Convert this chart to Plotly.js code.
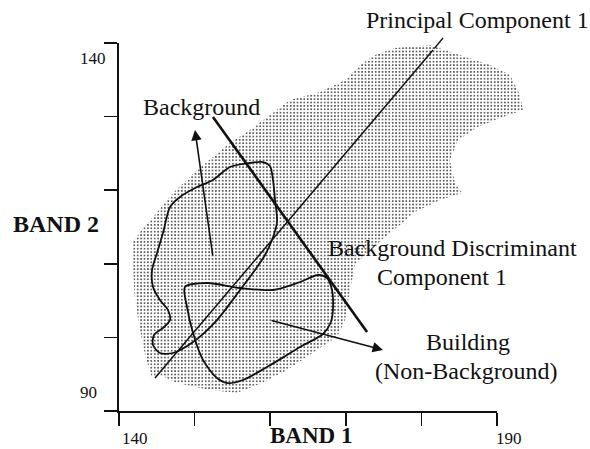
<!DOCTYPE html>
<html>
<head>
<meta charset="utf-8">
<script src="https://cdn.plot.ly/plotly-3.0.1.min.js"></script>
<style>html,body{margin:0;padding:0;background:#fff;}#chart{width:590px;height:449px;}</style>
</head>
<body>
<div id="chart"></div>
<script>
// Stippled scatter cloud (BAND 1, BAND 2)
const cloudX = [144.37,143.44,142.78,142.12,141.85,141.85,143.17,144.50,147.14,150.32,152.43,154.68,157.33,159.97,162.62,166.59,169.90,171.88,173.86,176.51,181.14,185.11,189.08,191.72,193.04,193.44,190.40,187.49,184.84,183.78,184.45,185.37,182.46,179.15,177.17,175.19,173.20,171.22,170.56,169.90,168.84,166.59,162.22,158.65,155.61,152.04,147.67,145.42];
const cloudY = [94.48,97.61,101.01,105.08,109.16,112.96,114.86,116.36,119.62,122.74,124.51,126.41,128.18,130.22,132.26,133.34,134.97,137.01,138.37,139.32,139.73,138.37,137.01,135.65,132.93,130.90,129.81,128.59,126.82,124.10,120.98,119.62,118.67,117.04,115.27,113.64,111.87,109.84,106.44,102.36,100.05,98.56,95.57,93.67,92.45,92.85,93.80,94.89];

// Background class contour
const bgX = [154.68,157.33,159.05,159.97,160.37,160.64,160.90,160.24,159.31,157.99,156.01,152.96,149.79,147.14,145.42,144.50,144.63,145.82,146.75,146.48,145.42,144.50,144.37,145.03,145.82,146.75,148.07,150.32,152.43,154.68];
const bgY = [123.15,123.70,123.83,123.29,121.39,118.67,115.68,113.23,111.20,109.16,106.44,102.36,99.37,97.88,97.88,98.97,100.33,101.28,102.36,103.72,105.08,106.85,109.16,111.47,114.18,117.72,119.08,120.43,121.39,123.15];

// Building class contour
const bldX = [148.73,151.64,156.01,160.37,163.94,166.32,167.51,168.18,168.31,168.04,166.99,163.94,162.22,159.58,156.40,154.29,152.96,151.11,149.79,149.00,148.73];
const bldY = [106.85,107.39,106.71,106.44,107.53,108.48,108.07,106.44,103.99,102.09,100.46,98.70,97.61,95.98,94.21,93.80,94.48,96.93,100.60,104.13,106.85];

// Principal Component 1 axis
const pc1X = [144.76, 181.54];
const pc1Y = [94.48, 139.05];

// Background Discriminant Component 1 axis
const bdcX = [152.43, 172.81];
const bdcY = [129.95, 100.73];

// Arrows: [tailX, tailY, tipX, tipY]
const bgArrow = [152.43, 110.92, 150.05, 128.18];
const bldArrow = [159.97, 102.36, 174.92, 98.29];

const xTicks = [140,150,160,170,180,190];
const yTicks = [90,100,110,120,130,140];
const xTickLabels = ['140','190'];
const yTickLabels = ['140','90'];

const serif = '"Liberation Serif", "Times New Roman", Times, serif';
const ink = '#111';

const traces = [
  {x: cloudX, y: cloudY, mode: 'lines', fill: 'toself', line: {width: 0, color: 'rgba(0,0,0,0)'},
   fillcolor: 'rgba(0,0,0,0)',
   fillpattern: {shape: '.', size: 3.4, solidity: 0.17, fgcolor: '#1a1a1a', bgcolor: '#ffffff'},
   hoverinfo: 'skip', showlegend: false},
  {x: bgX, y: bgY, mode: 'lines', line: {color: ink, width: 1.8, shape: 'spline', smoothing: 0.8}, hoverinfo: 'skip'},
  {x: bldX, y: bldY, mode: 'lines', line: {color: ink, width: 1.8, shape: 'spline', smoothing: 0.8}, hoverinfo: 'skip'},
  {x: pc1X, y: pc1Y, mode: 'lines', line: {color: ink, width: 1.5}, hoverinfo: 'skip'},
  {x: bdcX, y: bdcY, mode: 'lines', line: {color: ink, width: 2.6}, hoverinfo: 'skip'},
  {x: [140], y: [90], xaxis: 'x2', yaxis: 'y', mode: 'markers', marker: {opacity: 0}, hoverinfo: 'skip'}
];

const txt = (text, x, y, xref, yref, size, bold, yanchor) => ({
  text: bold ? '<b>' + text + '</b>' : text, x: x, y: y, xref: xref, yref: yref,
  showarrow: false, xanchor: 'center', yanchor: yanchor || 'middle', borderpad: 0,
  font: {family: serif, size: size, color: ink}
});

const arrowAnn = (a) => ({
  x: a[2], y: a[3], ax: a[0], ay: a[1], xref: 'x', yref: 'y', axref: 'x', ayref: 'y',
  text: '', showarrow: true, arrowhead: 2, arrowsize: 1.3, arrowwidth: 1.6, arrowcolor: ink, standoff: 0, startstandoff: 0
});

const annotations = [
  txt('Principal Component 1', 187.42, 1.0625, 'x', 'paper', 24),
  txt('Background', 150.91, 131.37, 'x', 'y', 24),
  txt('Background Discriminant', 184.10, 112.08, 'x', 'y', 24),
  txt('Component 1', 182.73, 108.27, 'x', 'y', 24),
  txt('Building', 186.10, 99.31, 'x', 'y', 24),
  txt('(Non-Background)', 185.97, 95.43, 'x', 'y', 24),
  txt(yTickLabels[0], -0.0633, 137.83, 'paper', 'y', 17),
  txt(yTickLabels[1], -0.073, 92.58, 'paper', 'y', 17),
  txt(xTickLabels[0], 142.12, -0.1025, 'x', 'paper', 17, false, 'bottom'),
  txt(xTickLabels[1], 191.59, -0.1025, 'x', 'paper', 17, false, 'bottom'),
  txt('BAND 2', -0.153, 115.41, 'paper', 'y', 24, true),
  txt('BAND 1', 165.40, -0.1025, 'x', 'paper', 23, true, 'bottom'),
  arrowAnn(bgArrow),
  arrowAnn(bldArrow),
  {x: 182.86, y: 1.0136, xref: 'x', yref: 'paper', ax: -10, ay: 12, text: '', showarrow: true,
   arrowhead: 0, arrowwidth: 1.3, arrowcolor: ink, standoff: 0, startstandoff: 0}
];

const axisStyle = {
  ticks: 'outside', ticklen: 13, tickwidth: 1.5, tickcolor: ink,
  showticklabels: false, showline: true, linewidth: 1.6, linecolor: ink,
  showgrid: false, zeroline: false, fixedrange: true
};

const layout = {
  width: 590, height: 449,
  margin: {l: 119, r: 60, t: 43, b: 38, pad: 0},
  paper_bgcolor: '#ffffff', plot_bgcolor: 'rgba(0,0,0,0)',
  showlegend: false,
  xaxis: {domain: [0, 1], range: [140, 194.365], visible: false, fixedrange: true},
  xaxis2: Object.assign({domain: [0, 0.91971], range: [140, 190], anchor: 'y', tickvals: xTicks}, axisStyle),
  yaxis: Object.assign({domain: [0, 1], range: [90, 140], anchor: 'x', tickvals: yTicks}, axisStyle),
  annotations: annotations
};

Plotly.newPlot('chart', traces, layout, {staticPlot: true, displayModeBar: false});
</script>
</body>
</html>
